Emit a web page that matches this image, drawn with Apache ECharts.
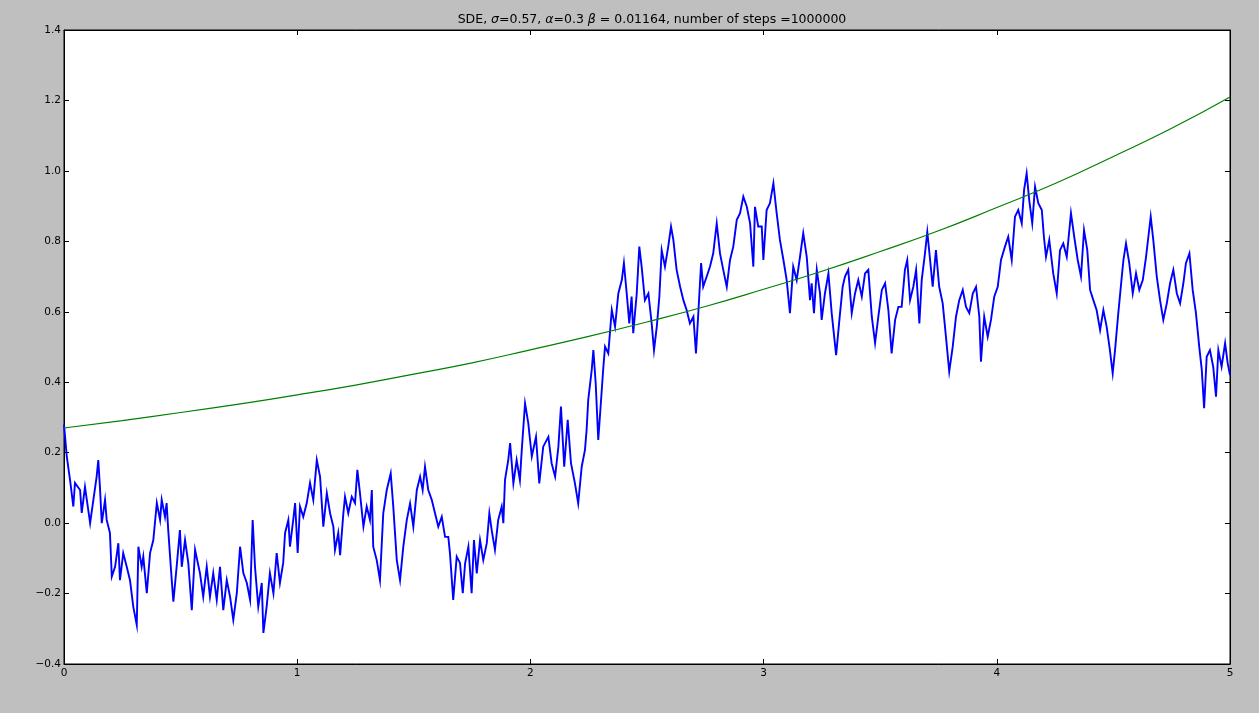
<!DOCTYPE html>
<html>
<head>
<meta charset="utf-8">
<script src="https://cdn.jsdelivr.net/npm/echarts@6/dist/echarts.min.js"></script>
<style>
html,body{margin:0;padding:0;background:#bfbfbf;}
#c{width:1259px;height:713px;}
</style>
</head>
<body>
<div id="c"></div>
<script>
// Tick labels / axis ranges
const xTicks = [0, 1, 2, 3, 4, 5];
const yTicks = [-0.4, -0.2, 0.0, 0.2, 0.4, 0.6, 0.8, 1.0, 1.2, 1.4];

// Blue sample path (time, value)
const blueT = [
0,0.012,0.026,0.040,0.047,0.069,0.076,0.090,0.112,0.124,0.140,0.147,0.154,0.162,0.176,0.183,0.197,0.205,0.219,0.233,0.240,0.254,0.269,0.283,0.297,0.312,0.319,0.333,0.340,0.355,0.369,0.383,0.398,0.412,0.419,0.433,0.440,0.447,0.462,0.469,0.483,0.497,0.505,0.519,0.533,0.548,0.562,0.583,0.597,0.612,0.626,0.640,0.655,0.669,0.683,0.698,0.712,0.726,0.741,0.755,0.769,0.784,0.798,0.809,0.819,0.833,
0.848,0.855,0.869,0.883,0.898,0.912,0.926,0.940,0.948,0.962,0.969,0.983,0.991,1.002,1.012,1.026,1.041,1.055,1.069,1.084,1.098,1.112,1.127,1.141,1.155,1.162,1.176,1.184,1.198,1.205,1.219,1.234,1.248,1.258,1.269,1.284,1.298,1.312,1.320,1.326,1.341,1.355,1.369,1.384,1.401,1.412,1.427,1.441,1.455,1.470,1.484,1.498,1.513,1.527,1.538,1.548,1.562,1.577,1.591,1.605,1.620,1.634,1.648,1.655,1.669,
1.684,1.698,1.710,1.720,1.734,1.748,1.758,1.770,1.784,1.798,1.813,1.824,1.834,1.848,1.862,1.877,1.884,1.891,1.905,1.913,1.927,1.941,1.955,1.963,1.977,1.991,2.006,2.024,2.038,2.055,2.077,2.091,2.106,2.120,2.131,2.145,2.160,2.174,2.191,2.205,2.220,2.234,2.241,2.248,2.263,2.270,2.280,2.291,2.306,
2.313,2.320,2.334,2.349,2.363,2.377,2.392,2.401,2.413,2.424,2.434,2.441,2.456,2.467,2.477,2.491,2.506,2.520,2.530,2.542,2.553,2.563,2.577,2.591,2.603,2.613,2.627,2.642,2.656,2.670,2.684,2.699,2.710,2.720,2.732,2.741,2.756,2.770,2.784,2.799,2.813,2.827,2.842,2.856,2.870,2.885,2.899,2.913,2.928,2.942,2.956,2.963,2.977,2.992,2.999,3.013,3.027,3.042,3.056,3.070,3.085,3.099,3.113,
3.127,3.142,3.156,3.170,3.185,3.199,3.206,3.216,3.228,3.242,3.249,3.263,3.278,3.292,3.311,3.325,3.339,3.349,3.363,3.378,3.392,3.406,3.421,3.435,3.449,3.464,3.478,3.492,3.507,3.521,3.535,3.549,3.564,3.578,3.592,3.606,3.616,3.628,3.642,3.654,3.668,3.678,3.692,3.702,3.714,3.725,3.739,3.753,3.768,3.782,3.796,3.811,3.825,3.839,3.854,3.868,3.882,3.897,3.911,3.925,3.932,3.946,3.961,3.975,3.989,4.004,4.018,4.035,
4.049,4.064,4.078,4.092,4.107,4.117,4.128,4.139,4.152,4.164,4.178,4.193,4.202,4.211,4.225,4.242,4.257,4.271,4.285,4.300,4.318,4.332,4.347,4.361,4.374,4.388,4.400,4.414,4.428,4.443,4.457,4.471,4.485,4.497,4.507,4.521,4.536,4.543,4.554,4.568,4.583,4.597,4.611,4.626,4.640,4.650,4.660,4.671,4.686,4.700,4.714,4.729,4.743,4.757,4.772,4.786,4.800,4.811,4.826,4.840,4.854,4.868,4.879,4.889,4.900,4.914,4.928,4.940,4.950,4.964,4.979,4.990,5.0
];
const blueV = [
0.28,0.189,0.122,0.047,0.114,0.094,0.029,0.103,0,0.057,0.132,0.179,0.103,0,0.066,0.009,-0.028,-0.152,-0.124,-0.057,-0.162,-0.085,-0.124,-0.162,-0.237,-0.289,-0.067,-0.124,-0.095,-0.199,-0.085,-0.048,0.057,0.009,0.066,0.018,0.057,-0.02,-0.162,-0.223,-0.124,-0.02,-0.124,-0.048,-0.113,-0.247,-0.076,-0.142,-0.209,-0.124,-0.209,-0.142,-0.218,-0.124,-0.247,-0.162,-0.209,-0.275,-0.199,-0.067,-0.142,-0.17,-0.218,0.009,-0.124,-0.237,
-0.17,-0.312,-0.237,-0.142,-0.199,-0.085,-0.17,-0.113,-0.028,0.009,-0.067,0.009,0.057,-0.085,0.047,0.018,0.057,0.114,0.066,0.179,0.132,-0.01,0.085,0.028,-0.01,-0.076,-0.028,-0.091,0.028,0.075,0.028,0.075,0.057,0.151,0.086,-0.01,0.047,0.009,0.094,-0.067,-0.105,-0.162,0.028,0.094,0.141,0.047,-0.105,-0.162,-0.067,0.009,0.056,-0.01,0.094,0.132,0.094,0.16,0.094,0.066,0.028,-0.01,0.018,-0.039,-0.039,-0.085,-0.218,
-0.095,-0.113,-0.199,-0.114,-0.067,-0.199,-0.048,-0.143,-0.048,-0.105,-0.057,0.028,-0.02,-0.076,0.009,0.047,0,0.122,0.179,0.227,0.113,0.179,0.122,0.208,0.34,0.283,0.189,0.245,0.113,0.217,0.245,0.17,0.132,0.217,0.331,0.16,0.293,0.17,0.113,0.056,0.16,0.208,0.264,0.35,0.435,0.491,0.397,0.236,0.378,
0.444,0.501,0.482,0.605,0.558,0.652,0.69,0.738,0.652,0.567,0.643,0.539,0.652,0.785,0.728,0.633,0.652,0.567,0.491,0.558,0.643,0.775,0.728,0.785,0.842,0.804,0.719,0.671,0.633,0.605,0.567,0.586,0.482,0.596,0.738,0.671,0.7,0.728,0.766,0.851,0.766,0.719,0.671,0.747,0.785,0.861,0.88,0.927,0.898,0.851,0.728,0.898,0.842,0.842,0.747,0.889,0.908,0.965,0.88,0.804,0.747,0.69,0.596,
0.728,0.69,0.756,0.823,0.756,0.633,0.681,0.596,0.719,0.652,0.577,0.652,0.709,0.596,0.477,0.577,0.671,0.7,0.719,0.596,0.652,0.69,0.643,0.709,0.719,0.586,0.511,0.586,0.662,0.681,0.605,0.482,0.577,0.614,0.614,0.719,0.747,0.633,0.671,0.719,0.567,0.69,0.766,0.827,0.747,0.671,0.775,0.671,0.624,0.529,0.43,0.501,0.586,0.633,0.662,0.614,0.596,0.652,0.671,0.586,0.458,0.586,0.529,0.577,0.643,0.671,0.747,0.785,
0.813,0.747,0.87,0.889,0.851,0.946,0.993,0.917,0.851,0.955,0.908,0.889,0.813,0.756,0.804,0.709,0.652,0.775,0.794,0.756,0.88,0.813,0.747,0.7,0.832,0.775,0.662,0.633,0.605,0.548,0.605,0.558,0.491,0.425,0.491,0.596,0.7,0.747,0.794,0.738,0.652,0.709,0.662,0.69,0.756,0.813,0.87,0.804,0.7,0.633,0.577,0.624,0.681,0.719,0.652,0.624,0.681,0.738,0.766,0.662,0.596,0.501,0.435,0.326,0.472,0.491,0.444,0.359,0.491,0.444,0.511,0.454,0.42
];

// Green curve (time, value)
const greenT = [0, 0.25, 0.5, 0.75, 1, 1.25, 1.5, 1.75, 2, 2.25, 2.5, 2.75, 3, 3.25, 3.5, 3.75, 4, 4.25, 4.5, 4.75, 5];
const greenV = [0.270, 0.291, 0.314, 0.338, 0.364, 0.392, 0.423, 0.455, 0.492, 0.530, 0.571, 0.615, 0.664, 0.715, 0.771, 0.830, 0.896, 0.964, 1.041, 1.121, 1.210];

const blueData = blueT.map((t, i) => [t, blueV[i]]);
const greenData = greenT.map((t, i) => [t, greenV[i]]);

const FONT = 'DejaVu Sans';
const fmtY = v => v.toFixed(1).replace('-', '\u2212');

function xAx(pos, showLabel) {
  return {
    type: 'value', position: pos, min: xTicks[0], max: xTicks[xTicks.length - 1], interval: 1,
    splitLine: { show: false },
    axisLine: { show: true, onZero: false, lineStyle: { color: '#000', width: 1 } },
    axisTick: { show: true, inside: true, length: 5, lineStyle: { color: '#000' } },
    axisLabel: { show: showLabel, color: '#000', fontFamily: FONT, fontSize: 10.5, margin: 4 }
  };
}
function yAx(pos, showLabel) {
  return {
    type: 'value', position: pos, min: yTicks[0], max: yTicks[yTicks.length - 1], interval: 0.2,
    splitLine: { show: false },
    axisLine: { show: true, onZero: false, lineStyle: { color: '#000', width: 1 } },
    axisTick: { show: true, inside: true, length: 5, lineStyle: { color: '#000' } },
    axisLabel: { show: showLabel, color: '#000', fontFamily: FONT, fontSize: 10.5, margin: 3, formatter: fmtY }
  };
}

const chart = echarts.init(document.getElementById('c'), null, { renderer: 'canvas' });
chart.setOption({
  animation: false,
  backgroundColor: '#bfbfbf',
  title: {
    text: '{n|SDE, }{i|σ}{n|=0.57, }{i|α}{n|=0.3 }{i|β}{n| = 0.01164, number of steps =1000000}',
    left: 647, top: 8, textAlign: 'center',
    textStyle: {
      fontWeight: 'normal',
      rich: {
        n: { fontFamily: FONT, fontSize: 12.5, fontWeight: 'normal', color: '#000' },
        i: { fontFamily: FONT, fontSize: 12.5, fontWeight: 'normal', fontStyle: 'italic', color: '#000' }
      }
    }
  },
  grid: { left: 64, right: 29, top: 30, bottom: 49, show: true, backgroundColor: '#ffffff', borderColor: '#000', borderWidth: 1 },
  xAxis: [xAx('bottom', true), xAx('top', false)],
  yAxis: [yAx('left', true), yAx('right', false)],
  series: [
    {
      type: 'line', data: blueData, xAxisIndex: 0, yAxisIndex: 0,
      showSymbol: false, symbol: 'none',
      lineStyle: { color: '#0000ff', width: 1.9, join: 'miter' }
    },
    {
      type: 'line', data: greenData, xAxisIndex: 0, yAxisIndex: 0,
      showSymbol: false, symbol: 'none', smooth: true,
      lineStyle: { color: '#008000', width: 1.2 }
    }
  ]
});
</script>
</body>
</html>
